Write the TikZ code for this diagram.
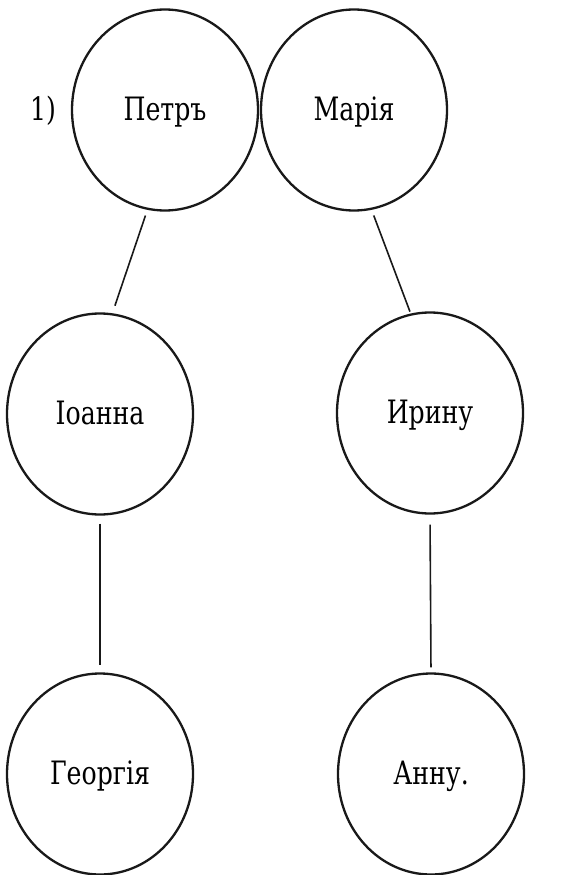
\documentclass[tikz,border=0pt]{standalone}
\usepackage{fontspec}
\usepackage{graphicx}
\setmainfont{DejaVu Serif}
\newfontfamily\oldserif{DejaVu Serif Condensed}
\usetikzlibrary{shapes.geometric}
\newcommand{\tallname}[1]{\scalebox{1}[1.15]{#1}}
\begin{document}
\begin{tikzpicture}[x=1pt,y=-1pt,
  person/.style={draw=black!90, line width=2.3pt, ellipse, minimum width=186pt, minimum height=201pt, inner sep=0pt, text height=24pt, text depth=4pt, font=\oldserif\fontsize{28}{34}\selectfont},
  link/.style={draw=black!90, line width=1.6pt},
  lbl/.style={font=\oldserif\fontsize{28}{34}\selectfont, inner sep=0pt, text height=24pt, text depth=4pt}]
\useasboundingbox (0,0) rectangle (575,875);
\fill[white] (0,0) rectangle (575,875);
\node[person] (p) at (165,110) {\tallname{Петръ}};
\node[person] (m) at (354,110) {\tallname{Марія}};
\node[person] (i) at (100,414) {\tallname{Іоанна}};
\node[person] (r) at (430,413) {\tallname{Ирину}};
\node[person] (g) at (100,774) {\tallname{Георгія}};
\node[person] (a) at (431,774) {\tallname{Анну.}};
\node[lbl] (n) at (43,110) {\tallname{1)}};
\draw[link, shorten <=6pt, shorten >=8pt] (p.260) -- (i.83);
\draw[link, shorten <=6pt, shorten >=2pt] (m.280) -- (r.101);
\draw[link, shorten <=8pt, shorten >=7pt] (i.south) -- (g.north);
\draw[link, shorten <=10pt, shorten >=5pt] (r.south) -- (a.north);
\end{tikzpicture}
\end{document}
